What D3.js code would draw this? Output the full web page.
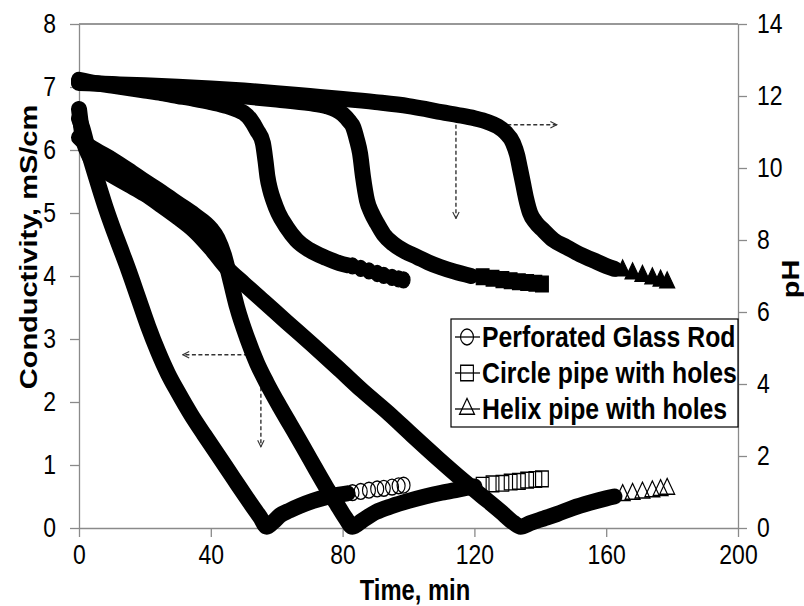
<!DOCTYPE html>
<html>
<head>
<meta charset="utf-8">
<script src="https://cdn.jsdelivr.net/npm/d3@7"></script>
<style>
  html, body { margin: 0; padding: 0; background: #fff; }
  svg { display: block; font-family: "Liberation Sans", Arial, sans-serif; }
</style>
</head>
<body>
<svg id="chart" width="804" height="606"></svg>
<script>
// ---------- data (time in minutes) ----------
// Perforated glass rod: densely logged part, then sparsely logged tail
const glassCondTime = [0, 1, 3, 5, 8, 10, 12.5, 15, 18, 21, 24, 27, 30, 34, 38, 42, 47, 51, 55, 57, 59, 61, 64, 67, 71, 75, 79, 81.5];
const glassCond     = [6.5, 6.35, 5.95, 5.6, 5.1, 4.8, 4.45, 4.1, 3.65, 3.2, 2.8, 2.45, 2.16, 1.8, 1.48, 1.17, 0.78, 0.47, 0.17, 0.02, 0.1, 0.2, 0.28, 0.35, 0.43, 0.49, 0.53, 0.55];
const glassPhTime   = [0, 5, 10, 15, 20, 25, 30, 35, 40, 45, 48, 50, 52, 54, 55.8, 56.6, 57.2, 58, 59, 60.5, 63, 66, 70, 75, 79, 81.5];
const glassPh       = [12.45, 12.36, 12.29, 12.22, 12.15, 12.08, 12.0, 11.92, 11.83, 11.72, 11.62, 11.53, 11.35, 11.05, 10.7, 10.2, 9.75, 9.4, 9.1, 8.75, 8.36, 8.0, 7.72, 7.5, 7.36, 7.3];
const glassTailTime = [83, 85.5, 88, 90.5, 92.5, 95, 97, 98.5];
const glassTailCond = [0.56, 0.58, 0.6, 0.62, 0.63, 0.65, 0.67, 0.68];
const glassTailPh   = [7.28, 7.21, 7.14, 7.07, 7.02, 6.96, 6.92, 6.89];

// Circle pipe with holes
const circleCondTime = [0, 2, 5, 10, 15, 20, 25, 30, 35, 40, 42, 44, 46, 48, 51, 54, 57, 61, 64, 68, 72, 75, 78, 81, 83, 86, 90, 95, 100, 105, 110, 115, 120];
const circleCond     = [6.2, 6.1, 6.0, 5.85, 5.68, 5.5, 5.33, 5.15, 4.97, 4.75, 4.6, 4.33, 3.92, 3.5, 3.02, 2.62, 2.3, 1.92, 1.65, 1.29, 0.92, 0.65, 0.4, 0.15, 0.02, 0.12, 0.25, 0.35, 0.43, 0.5, 0.56, 0.61, 0.66];
const circlePhTime   = [0, 10, 20, 30, 40, 50, 60, 70, 75, 78, 80, 82, 83.2, 84.3, 85.3, 86.2, 87.4, 88.8, 90.4, 92.5, 95.3, 99, 102.6, 106, 109.6, 114, 119];
const circlePh       = [12.38, 12.32, 12.25, 12.17, 12.08, 11.99, 11.9, 11.8, 11.72, 11.62, 11.5, 11.3, 11.14, 10.8, 10.4, 9.75, 9.1, 8.75, 8.47, 8.15, 7.9, 7.68, 7.53, 7.38, 7.25, 7.12, 7.0];
const circleTailTime = [122.5, 125.5, 128.5, 131, 133.5, 136, 138.5, 140.5];
const circleTailCond = [0.68, 0.7, 0.71, 0.73, 0.74, 0.76, 0.77, 0.78];
const circleTailPh   = [6.98, 6.94, 6.9, 6.87, 6.84, 6.82, 6.8, 6.78];

// Helix pipe with holes
const helixCondTime = [0, 1, 3, 6, 10, 15, 20, 25, 30, 35, 40, 45, 50, 56, 63, 71, 79, 86, 94, 101, 109, 116, 122, 128, 132, 134, 137, 141, 145, 150, 155, 160, 162.5];
const helixCond     = [6.65, 6.25, 5.92, 5.74, 5.6, 5.45, 5.3, 5.12, 4.93, 4.72, 4.44, 4.12, 3.88, 3.6, 3.27, 2.9, 2.52, 2.18, 1.82, 1.48, 1.1, 0.78, 0.52, 0.26, 0.08, 0.02, 0.08, 0.15, 0.22, 0.32, 0.4, 0.47, 0.5];
const helixPhTime   = [0, 10, 20, 30, 40, 50, 60, 70, 80, 90, 100, 105, 110, 115, 120, 124, 127, 129.5, 131.7, 133, 133.8, 134.7, 135.7, 136.9, 138.5, 140.8, 144, 148, 152, 156, 160, 162.5];
const helixPh       = [12.36, 12.33, 12.3, 12.26, 12.21, 12.15, 12.08, 12.0, 11.92, 11.83, 11.72, 11.64, 11.55, 11.47, 11.38, 11.28, 11.16, 10.98, 10.7, 10.35, 10.0, 9.6, 9.15, 8.75, 8.5, 8.28, 8.0, 7.8, 7.6, 7.44, 7.28, 7.2];
const helixTailTime = [165, 168, 171, 174, 176.5, 178.5];
const helixTailCond = [0.52, 0.54, 0.56, 0.58, 0.6, 0.62];
const helixTailPh   = [7.15, 7.07, 7.0, 6.93, 6.87, 6.82];

const seriesNames = ["Perforated Glass Rod", "Circle pipe with holes", "Helix pipe with holes"];
const timeTicks = [0, 40, 80, 120, 160, 200];
const condTicks = [0, 1, 2, 3, 4, 5, 6, 7, 8];
const phTicks   = [0, 2, 4, 6, 8, 10, 12, 14];

// ---------- layout ----------
const svg = d3.select("#chart");
const plot = { left: 79, right: 738, top: 24, bottom: 528 };
const x  = d3.scaleLinear().domain([0, 200]).range([plot.left, plot.right]);
const yC = d3.scaleLinear().domain([0, 8]).range([plot.bottom, plot.top]);
const yP = d3.scaleLinear().domain([0, 14]).range([plot.bottom, plot.top]);

const axisGrey = "#8a8a8a";
const tickFont = 28;
const titleFont = 29;
const squeeze = 0.82;   // narrow lettering

// move a text's x/y into a transform so its glyphs can be narrowed
function narrow(sel, k) {
  sel.each(function () {
    const t = d3.select(this);
    const tx = +t.attr("x") || 0, ty = +t.attr("y") || 0;
    t.attr("x", 0).attr("y", 0).attr("transform", `translate(${tx},${ty}) scale(${k},1)`);
  });
}

function styleAxis(g) {
  g.select(".domain").attr("stroke", axisGrey).attr("stroke-width", 1.3);
  g.selectAll(".tick line").attr("stroke", axisGrey).attr("stroke-width", 1.3);
  g.selectAll(".tick text").attr("fill", "#000").attr("font-size", tickFont)
    .attr("font-family", "'Liberation Sans', Arial, sans-serif")
    .call(narrow, squeeze);
}

// top frame line
svg.append("line")
  .attr("x1", plot.left).attr("x2", plot.right)
  .attr("y1", plot.top).attr("y2", plot.top)
  .attr("stroke", "#333").attr("stroke-width", 1.2);

svg.append("g").attr("transform", `translate(0,${plot.bottom})`)
  .call(d3.axisBottom(x).tickValues(timeTicks).tickSize(9).tickPadding(7).tickSizeOuter(0))
  .call(styleAxis);
svg.append("g").attr("transform", `translate(${plot.left},0)`)
  .call(d3.axisLeft(yC).tickValues(condTicks).tickSize(9).tickPadding(14).tickSizeOuter(0))
  .call(styleAxis);
svg.append("g").attr("transform", `translate(${plot.right},0)`)
  .call(d3.axisRight(yP).tickValues(phTicks).tickSize(9).tickPadding(10).tickSizeOuter(0))
  .call(styleAxis);

// axis titles
svg.append("text")
  .attr("transform", `translate(415,600) scale(${squeeze},1)`)
  .attr("text-anchor", "middle").attr("font-weight", "bold").attr("font-size", titleFont)
  .text("Time, min");
svg.append("text")
  .attr("transform", `translate(37,247) scale(${squeeze},1) rotate(-90)`)
  .attr("text-anchor", "middle").attr("font-weight", "bold").attr("font-size", titleFont)
  .text("Conductivity, mS/cm");
svg.append("text")
  .attr("transform", `translate(799,279) scale(${squeeze},1) rotate(-90)`)
  .attr("text-anchor", "middle").attr("font-weight", "bold").attr("font-size", titleFont)
  .text("pH");

// ---------- dashed pointer arrows ----------
const defs = svg.append("defs");
defs.append("marker")
  .attr("id", "openHead").attr("viewBox", "0 0 10 10")
  .attr("refX", 9).attr("refY", 5).attr("markerWidth", 8).attr("markerHeight", 8)
  .attr("markerUnits", "userSpaceOnUse").attr("orient", "auto")
  .append("path").attr("d", "M1,1 L9,5 L1,9").attr("fill", "none")
  .attr("stroke", "#333").attr("stroke-width", 1.4);

const arrows = [
  // conductivity pointers (left axis)
  { t1: 55.2, v1: 2.75, t2: 31.5, v2: 2.75, axis: "c" },
  { t1: 55.2, v1: 2.75, t2: 55.2, v2: 1.29, axis: "c" },
  // pH pointers (right axis)
  { t1: 128, v1: 11.2, t2: 145, v2: 11.2, axis: "p" },
  { t1: 114.4, v1: 11.2, t2: 114.4, v2: 8.6, axis: "p" }
];
svg.append("g").selectAll("line").data(arrows).join("line")
  .attr("x1", d => x(d.t1)).attr("x2", d => x(d.t2))
  .attr("y1", d => (d.axis === "c" ? yC : yP)(d.v1))
  .attr("y2", d => (d.axis === "c" ? yC : yP)(d.v2))
  .attr("stroke", "#333").attr("stroke-width", 1.4)
  .attr("stroke-dasharray", "4,2.5")
  .attr("marker-end", "url(#openHead)");

// ---------- series ----------
const bandWidth = 16;
const zip = (ts, vs) => ts.map((t, i) => [t, vs[i]]);

function band(ts, vs, yScale) {
  const line = d3.line().x(d => x(d[0])).y(d => yScale(d[1])).curve(d3.curveMonotoneX);
  svg.append("path").datum(zip(ts, vs))
    .attr("d", line).attr("fill", "none").attr("stroke", "#000")
    .attr("stroke-width", bandWidth)
    .attr("stroke-linejoin", "round").attr("stroke-linecap", "round");
}

const shapes = [d3.symbolCircle, d3.symbolSquare, d3.symbolTriangle];
const sizes = [170, 210, 125];

function markers(ts, vs, yScale, k, filled) {
  svg.append("g").selectAll("path").data(zip(ts, vs)).join("path")
    .attr("transform", d => `translate(${x(d[0])},${yScale(d[1])}) scale(0.88,1.08)`)
    .attr("d", d3.symbol().type(shapes[k]).size(sizes[k]))
    .attr("fill", filled ? "#000" : "none")
    .attr("stroke", "#000").attr("stroke-width", 1.3);
}

// conductivity (left axis)
band(glassCondTime, glassCond, yC);
band(circleCondTime, circleCond, yC);
band(helixCondTime, helixCond, yC);
markers(glassTailTime, glassTailCond, yC, 0, false);
markers(circleTailTime, circleTailCond, yC, 1, false);
markers(helixTailTime, helixTailCond, yC, 2, false);

// pH (right axis)
band(glassPhTime, glassPh, yP);
band(circlePhTime, circlePh, yP);
band(helixPhTime, helixPh, yP);
markers(glassTailTime, glassTailPh, yP, 0, true);
markers(circleTailTime, circleTailPh, yP, 1, true);
markers(helixTailTime, helixTailPh, yP, 2, true);

// ---------- legend ----------
const legend = svg.append("g").attr("transform", "translate(451,319)");
legend.append("rect").attr("width", 287).attr("height", 108)
  .attr("fill", "#fff").attr("stroke", "#000").attr("stroke-width", 1.2);
const rowY = [18, 54, 90];
seriesNames.forEach((name, k) => {
  const row = legend.append("g").attr("transform", `translate(0,${rowY[k]})`);
  row.append("line").attr("x1", 4).attr("x2", 29).attr("y1", 0).attr("y2", 0)
    .attr("stroke", "#000").attr("stroke-width", 1.3);
  row.append("path").attr("transform", "translate(16,0) scale(0.88,1.08)")
    .attr("d", d3.symbol().type(shapes[k]).size(sizes[k]))
    .attr("fill", "none").attr("stroke", "#000").attr("stroke-width", 1.3);
  row.append("text").attr("transform", "translate(31,10) scale(0.855,1)")
    .attr("font-weight", "bold").attr("font-size", titleFont).text(name);
});
</script>
</body>
</html>
